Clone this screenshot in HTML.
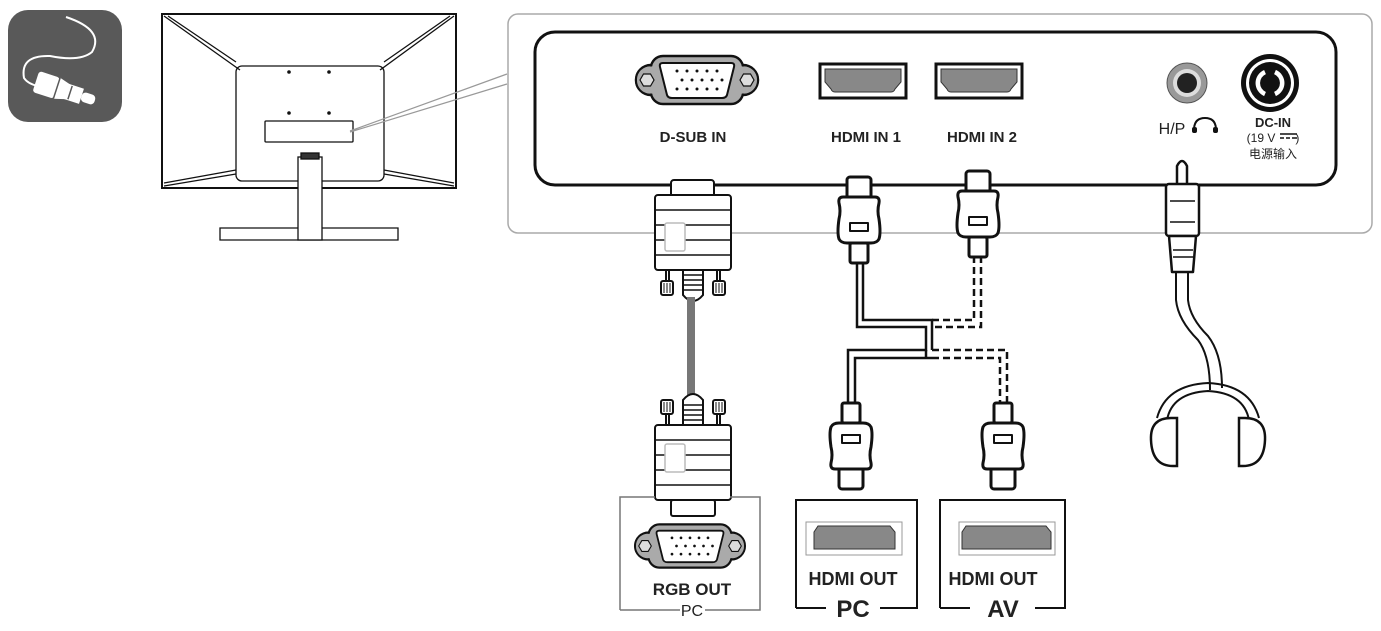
<!DOCTYPE html>
<html><head><meta charset="utf-8"><style>
html,body{margin:0;padding:0;background:#fff}
svg{display:block}
text{font-family:"Liberation Sans","Noto Sans CJK SC",sans-serif;fill:#222}
</style></head><body>
<svg width="1381" height="631" viewBox="0 0 1381 631" xmlns="http://www.w3.org/2000/svg">
<defs>
<g id="vga">
  <rect x="-61" y="-15" width="122" height="30" rx="15" fill="#aaa" stroke="#111" stroke-width="2.5"/>
  <rect x="-46" y="-24" width="92" height="48" rx="12" fill="#aaa" stroke="#111" stroke-width="2.5"/>
  <rect x="-60" y="-13.5" width="120" height="27" rx="13" fill="#aaa"/>
  <rect x="-45" y="-22.5" width="90" height="45" rx="11" fill="#aaa"/>
  <path d="M-34,-17 L34,-17 Q38,-17 37,-13 L30,15 Q29,18 25,18 L-25,18 Q-29,18 -30,15 L-37,-13 Q-38,-17 -34,-17Z" fill="#fff" stroke="#111" stroke-width="2"/>
  <polygon points="-57,0 -53.5,-6 -46.5,-6 -43,0 -46.5,6 -53.5,6" fill="#ddd" stroke="#111" stroke-width="1.2"/>
  <polygon points="57,0 53.5,-6 46.5,-6 43,0 46.5,6 53.5,6" fill="#ddd" stroke="#111" stroke-width="1.2"/>
  <g fill="#111">
    <circle cx="-20" cy="-9" r="1.5"/><circle cx="-10" cy="-9" r="1.5"/><circle cx="0" cy="-9" r="1.5"/><circle cx="10" cy="-9" r="1.5"/><circle cx="20" cy="-9" r="1.5"/>
    <circle cx="-15" cy="0" r="1.5"/><circle cx="-5" cy="0" r="1.5"/><circle cx="5" cy="0" r="1.5"/><circle cx="15" cy="0" r="1.5"/><circle cx="25" cy="0" r="1.5"/>
    <circle cx="-20" cy="9" r="1.5"/><circle cx="-10" cy="9" r="1.5"/><circle cx="0" cy="9" r="1.5"/><circle cx="10" cy="9" r="1.5"/><circle cx="20" cy="9" r="1.5"/>
  </g>
</g>
<g id="hdmiport">
  <rect x="-43" y="-17" width="86" height="34" fill="#fff" stroke="#111" stroke-width="3"/>
  <path d="M-38,-12 L38,-12 L38,1 L32,8 Q31,11 28,11 L-28,11 Q-31,11 -32,8 L-38,1Z" fill="#888" stroke="#333" stroke-width="1"/>
</g>
<g id="hplug" fill="#fff" stroke="#111" stroke-width="3" stroke-linejoin="round">
  <rect x="-12" y="0" width="24" height="22" rx="3"/>
  <path d="M-16,20 L16,20 Q21,20 20,26 Q18,34 20,42 Q22,56 20,62 Q18,66 12,66 L-12,66 Q-18,66 -20,62 Q-22,56 -20,42 Q-18,34 -20,26 Q-21,20 -16,20Z"/>
  <rect x="-9" y="46" width="18" height="8" stroke-width="2"/>
  <rect x="-9" y="66" width="18" height="20" rx="2"/>
</g>
<g id="vplug" stroke="#111" stroke-width="2" fill="#fff">
  <rect x="-38" y="0" width="76" height="75" rx="3"/>
  <line x1="-38" y1="15" x2="38" y2="15" stroke-width="1.5"/>
  <line x1="-38" y1="30" x2="38" y2="30" stroke-width="1.5"/>
  <line x1="-38" y1="45" x2="38" y2="45" stroke-width="1.5"/>
  <line x1="-38" y1="60" x2="38" y2="60" stroke-width="1.5"/>
  <rect x="-28" y="28" width="20" height="28" rx="2" stroke="#bbb" stroke-width="1.5"/>
  <line x1="-27" y1="75" x2="-27" y2="90"/><line x1="-24" y1="75" x2="-24" y2="90"/>
  <line x1="27" y1="75" x2="27" y2="90"/><line x1="24" y1="75" x2="24" y2="90"/>
  <rect x="-32" y="86" width="12" height="14" rx="2"/>
  <rect x="20" y="86" width="12" height="14" rx="2"/>
  <g stroke-width="1"><line x1="-29" y1="88" x2="-29" y2="98"/><line x1="-26" y1="88" x2="-26" y2="98"/><line x1="-23" y1="88" x2="-23" y2="98"/>
  <line x1="23" y1="88" x2="23" y2="98"/><line x1="26" y1="88" x2="26" y2="98"/><line x1="29" y1="88" x2="29" y2="98"/></g>
  <path d="M-10,75 L-10,100 Q0,112 10,100 L10,75Z"/>
  <g stroke-width="1.5"><line x1="-10" y1="80" x2="10" y2="80"/><line x1="-10" y1="85" x2="10" y2="85"/><line x1="-10" y1="90" x2="10" y2="90"/><line x1="-10" y1="95" x2="10" y2="95"/></g>
</g>
</defs>

<!-- icon -->
<rect x="8" y="10" width="114" height="112" rx="20" fill="#595959"/>
<path d="M66,17 Q105,30 92,52 Q80,62 50,56 Q20,55 24,78 Q28,84 38,86" fill="none" stroke="#fff" stroke-width="2"/>
<g transform="rotate(18 65 92)" fill="#fff">
  <rect x="34" y="80" width="22" height="22" rx="3"/>
  <path d="M56,80 L70,84 L70,98 L56,102Z"/>
  <rect x="56" y="83" width="26" height="16"/>
  <rect x="82" y="86" width="14" height="10" rx="4"/>
</g>
<g transform="rotate(18 65 92)" stroke="#595959" stroke-width="1.5"><line x1="56" y1="80" x2="56" y2="102"/><line x1="70" y1="84" x2="70" y2="98"/></g>

<!-- monitor -->
<g fill="none" stroke="#111" stroke-width="1.3">
  <rect x="162" y="14" width="294" height="174" stroke-width="2"/>
  <rect x="236" y="66" width="148" height="115" rx="6"/>
  <path d="M164,16 L240,70 M168,16 L236,62 M454,16 L380,70 M450,16 L384,62 M164,186 L236,174 M164,183 L236,170 M454,186 L384,174 M454,183 L384,170"/>
  <rect x="265" y="121" width="88" height="21" rx="1"/>
  <path d="M220,228 L398,228 L398,240 L220,240 Z" fill="#fff"/>
  <rect x="298" y="157" width="24" height="83" fill="#fff"/>
  <rect x="301" y="153" width="18" height="6" fill="#333"/>
</g>
<g fill="#111"><circle cx="289" cy="72" r="1.8"/><circle cx="329" cy="72" r="1.8"/><circle cx="289" cy="113" r="1.8"/><circle cx="329" cy="113" r="1.8"/></g>
<path d="M350,131 L507,74 M350,132 L507,84" stroke="#999" stroke-width="1.2"/>

<!-- panels -->
<rect x="508" y="14" width="864" height="219" rx="10" fill="none" stroke="#aaa" stroke-width="1.5"/>
<rect x="535" y="32" width="801" height="153" rx="20" fill="#fff" stroke="#111" stroke-width="3"/>

<use href="#vga" x="697" y="80"/>
<use href="#hdmiport" x="863" y="81"/>
<use href="#hdmiport" x="979" y="81"/>
<circle cx="1187" cy="83" r="20" fill="#999" stroke="#555" stroke-width="1"/>
<circle cx="1187" cy="83" r="14" fill="#ddd"/>
<circle cx="1187" cy="83" r="10" fill="#222"/>
<circle cx="1270" cy="83" r="29" fill="#111"/>
<circle cx="1270" cy="83" r="24" fill="#fff"/>
<circle cx="1270" cy="83" r="21" fill="#111"/>
<path d="M1265,72 A12,12 0 0 0 1265,94 M1275,72 A12,12 0 0 1 1275,94" fill="none" stroke="#fff" stroke-width="4.5"/>

<g font-size="15" font-weight="bold" text-anchor="middle">
  <text x="693" y="142">D-SUB IN</text>
  <text x="866" y="142">HDMI IN 1</text>
  <text x="982" y="142">HDMI IN 2</text>
  <text x="1172" y="134" font-size="16" font-weight="normal">H/P</text>
  <text x="1273" y="127" font-size="13">DC-IN</text>
  <text x="1273" y="142" font-size="12" font-weight="normal">(19 V &#160;&#160;&#160;&#160;&#160;)</text>
  <text x="1273" y="158" font-size="12" font-weight="normal">电源输入</text>
</g>
<path d="M1194,130 Q1194,118 1205,118 Q1216,118 1216,130" fill="none" stroke="#111" stroke-width="2"/>
<rect x="1192" y="127" width="5" height="6" rx="2" fill="#111"/><rect x="1213" y="127" width="5" height="6" rx="2" fill="#111"/>
<line x1="1280" y1="134" x2="1297" y2="134" stroke="#111" stroke-width="1.5"/>
<path d="M1280,138 h4 M1286,138 h4 M1292,138 h5" stroke="#111" stroke-width="1.5"/>

<!-- VGA cable -->
<rect x="671" y="180" width="43" height="17" rx="3" fill="#fff" stroke="#111" stroke-width="2"/>
<use href="#vplug" x="693" y="195"/>
<rect x="687" y="297" width="8" height="102" fill="#777"/>
<use href="#vplug" transform="translate(693 500) scale(1 -1)"/>
<path d="M620,610 L620,497 L655,497 M730,497 L760,497 L760,610 L705,610 M680,610 L620,610" fill="none" stroke="#777" stroke-width="1.5"/>
<rect x="671" y="500" width="44" height="16" rx="2" fill="#fff" stroke="#111" stroke-width="2"/>
<use href="#vga" x="690" y="546" transform="translate(69 54.6) scale(0.9)"/>
<text x="692" y="595" font-size="17" font-weight="bold" text-anchor="middle">RGB OUT</text>
<text x="692" y="616" font-size="16" text-anchor="middle">PC</text>

<!-- HDMI cables -->
<g fill="none" stroke="#111" stroke-width="2.5">
  <path d="M857,262 L857,327 L926,327 L926,350 L848,350 L848,402"/>
  <path d="M863,262 L863,320 L932,320 L932,350"/>
  <path d="M932,358 L855,358 L855,402"/>
  <path d="M926,358 L926,350"/>
  <g stroke-dasharray="7,4">
    <path d="M974,256 L974,320 L932,320"/>
    <path d="M981,256 L981,327 L932,327"/>
    <path d="M932,350 L1007,350 L1007,402"/>
    <path d="M932,358 L1000,358 L1000,402"/>
  </g>
</g>
<use href="#hplug" x="859" y="177"/>
<use href="#hplug" x="978" y="171"/>
<use href="#hplug" transform="translate(851 489) scale(1 -1)"/>
<use href="#hplug" transform="translate(1003 489) scale(1 -1)"/>

<g fill="none" stroke="#111" stroke-width="2">
  <path d="M796,608 L796,500 L917,500 L917,608 L880,608 M826,608 L796,608"/>
  <path d="M940,608 L940,500 L1065,500 L1065,608 L1035,608 M970,608 L940,608"/>
</g>
<rect x="806" y="522" width="96" height="33" fill="#fff" stroke="#999" stroke-width="1"/>
<path d="M814,532 L818,526 L890,526 L895,532 L895,549 L814,549Z" fill="#888" stroke="#333"/>
<rect x="959" y="522" width="96" height="33" fill="#fff" stroke="#999" stroke-width="1"/>
<path d="M962,532 L966,526 L1046,526 L1051,532 L1051,549 L962,549Z" fill="#888" stroke="#333"/>
<g font-weight="bold" text-anchor="middle">
  <text x="853" y="585" font-size="18">HDMI OUT</text>
  <text x="853" y="617" font-size="24">PC</text>
  <text x="993" y="585" font-size="18">HDMI OUT</text>
  <text x="1003" y="617" font-size="24">AV</text>
</g>

<!-- headphone -->
<g fill="#fff" stroke="#111" stroke-width="2.5" stroke-linejoin="round">
  <path d="M1177,190 L1177,166 Q1182,156 1187,166 L1187,190"/>
  <rect x="1166" y="184" width="33" height="52" rx="3"/>
  <path d="M1169,236 L1196,236 L1193,272 L1172,272Z"/>
</g>
<g stroke="#111" stroke-width="1.5"><line x1="1170" y1="201" x2="1195" y2="201"/><line x1="1170" y1="222" x2="1195" y2="222"/><line x1="1173" y1="250" x2="1193" y2="250"/><line x1="1173" y1="257" x2="1193" y2="257"/></g>
<path d="M1176,272 L1176,300 Q1178,320 1198,340 Q1210,356 1210,390 M1188,272 L1188,300 Q1190,318 1208,336 Q1222,354 1222,388" fill="none" stroke="#111" stroke-width="2"/>
<path d="M1157,418 Q1166,385 1208,383 Q1250,385 1259,418 M1167,420 Q1172,393 1208,391 Q1244,393 1249,420" fill="none" stroke="#111" stroke-width="2"/>
<path d="M1171,418 Q1150,418 1151,440 Q1152,466 1173,466 L1177,466 L1177,418Z" fill="#fff" stroke="#111" stroke-width="2.5"/>
<path d="M1245,418 Q1266,418 1265,440 Q1264,466 1243,466 L1239,466 L1239,418Z" fill="#fff" stroke="#111" stroke-width="2.5"/>
</svg>
</body></html>
